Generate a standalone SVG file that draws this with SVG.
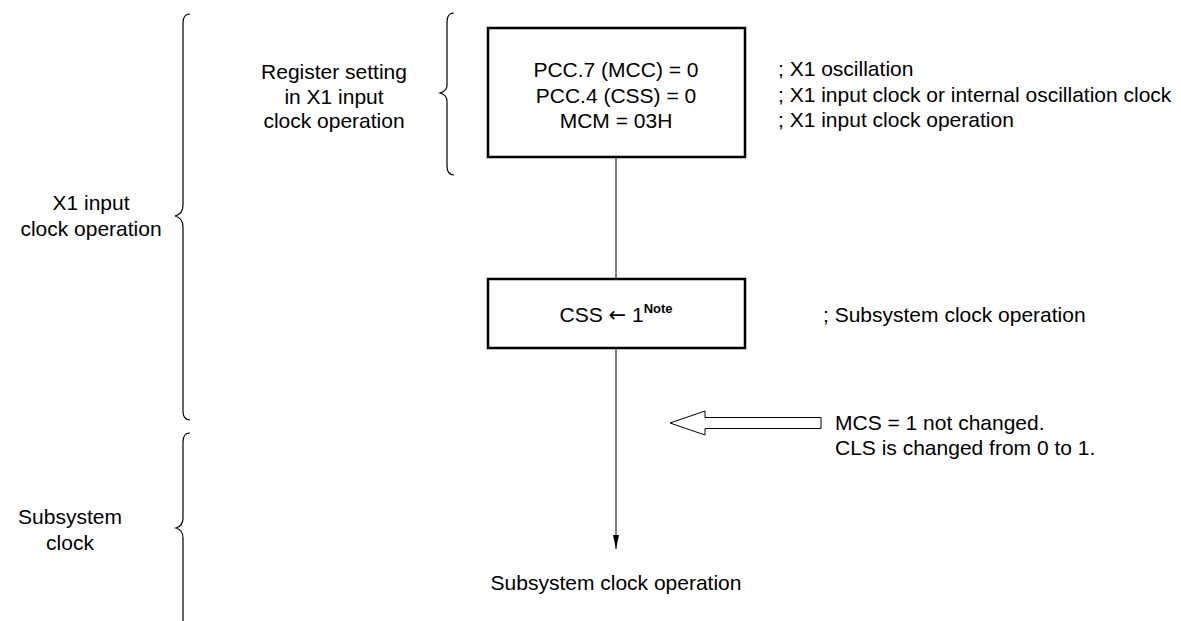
<svg xmlns="http://www.w3.org/2000/svg" width="1181" height="621" viewBox="0 0 1181 621">
<style>
text{font-family:"Liberation Sans",Arial,sans-serif;font-size:21px;fill:#000}
.box{fill:#fff;stroke:#000;stroke-width:2.5}
.ln{fill:none;stroke:#000;stroke-width:1}
.br{fill:none;stroke:#000;stroke-width:1.2}
.sup{font-size:13px;font-weight:bold}
.arr{font-family:"DejaVu Sans",sans-serif}
</style>
<defs>
<marker id="ah" markerWidth="14" markerHeight="6" refX="14" refY="3" orient="auto" markerUnits="userSpaceOnUse" viewBox="0 0 14 6">
<path d="M0,0 L14,3 L0,6 Z" fill="#000"/>
</marker>
</defs>
<rect width="1181" height="621" fill="#fff"/>
<g id="braces">
<path class="br" d="M190,14 Q183,14 183,23 L183,205 Q183,214 175,216 Q183,218 183,227 L183,411 Q183,420 190,420"/>
<path class="br" d="M454,13 Q447,13 447,22 L447,85 Q447,91 440,93 Q447,95 447,101 L447,166 Q447,175 454,175"/>
<path class="br" d="M190,433 Q183,433 183,442 L183,518 Q183,526 176,528 Q183,530 183,538 L183,621"/>
</g>
<g id="left-labels">
<text x="91" y="210" text-anchor="middle">X1 input</text>
<text x="91" y="236" text-anchor="middle">clock operation</text>
<text x="70" y="524" text-anchor="middle">Subsystem</text>
<text x="70" y="550" text-anchor="middle">clock</text>
<text x="334" y="79" text-anchor="middle">Register setting</text>
<text x="334" y="104" text-anchor="middle">in X1 input</text>
<text x="334" y="128" text-anchor="middle">clock operation</text>
</g>
<g id="connectors">
<line class="ln" x1="616" y1="157" x2="616" y2="279"/>
<line class="ln" x1="616" y1="348" x2="616" y2="549" marker-end="url(#ah)"/>
<path d="M670,423 L705,411 L705,417.5 L821,417.5 L821,428.5 L705,428.5 L705,435 Z" fill="#fff" stroke="#000" stroke-width="1"/>
</g>
<g id="node-register">
<rect class="box" x="488" y="28" width="257" height="129"/>
<text x="616" y="77" text-anchor="middle">PCC.7 (MCC) = 0</text>
<text x="616" y="103" text-anchor="middle">PCC.4 (CSS) = 0</text>
<text x="616" y="128" text-anchor="middle">MCM = 03H</text>
</g>
<g id="node-css">
<rect class="box" x="488" y="279" width="257" height="69"/>
<text x="616" y="322" text-anchor="middle">CSS <tspan class="arr">←</tspan> 1<tspan class="sup" dy="-9">Note</tspan></text>
</g>
<g id="comments">
<text x="778" y="76">; X1 oscillation</text>
<text x="778" y="102">; X1 input clock or internal oscillation clock</text>
<text x="778" y="127">; X1 input clock operation</text>
<text x="823" y="322">; Subsystem clock operation</text>
<text x="835" y="430">MCS = 1 not changed.</text>
<text x="835" y="455">CLS is changed from 0 to 1.</text>
</g>
<g id="node-end">
<text x="616" y="590" text-anchor="middle">Subsystem clock operation</text>
</g>
</svg>
